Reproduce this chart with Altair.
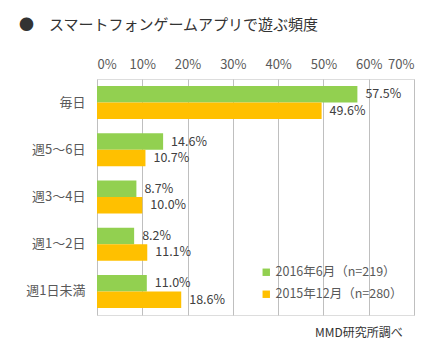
import altair as alt
import pandas as pd

categories = ["毎日", "週5～6日", "週3～4日", "週1～2日", "週1日未満"]
series = ["2016年6月（n=219）", "2015年12月（n=280）"]
v2016 = [57.5, 14.6, 8.7, 8.2, 11.0]
v2015 = [49.6, 10.7, 10.0, 11.1, 18.6]
colors = ["#92D050", "#FFC000"]
x_ticks = [0, 0.1, 0.2, 0.3, 0.4, 0.5, 0.6, 0.7]

rows = []
for i, c in enumerate(categories):
    rows.append(dict(cat=c, series=series[0], value=v2016[i]))
    rows.append(dict(cat=c, series=series[1], value=v2015[i]))
df = pd.DataFrame(rows)
df["frac"] = df["value"] / 100
df["label"] = df["value"].map(lambda v: f"{v:.1f}%")

FONT = "Noto Sans CJK JP"

base = alt.Chart(df).encode(
    y=alt.Y("cat:N", sort=categories, title=None,
            scale=alt.Scale(paddingInner=0.3, paddingOuter=0.15),
            axis=alt.Axis(domain=False, ticks=False, labelPadding=12,
                          labelFontSize=13, labelColor="#595959", labelFont=FONT)),
    yOffset=alt.YOffset("series:N", sort=series),
)

bars = base.mark_bar().encode(
    x=alt.X("frac:Q", title=None,
            scale=alt.Scale(domain=[0, 0.7], nice=False),
            axis=alt.Axis(orient="top", values=x_ticks, format=".0%", grid=True,
                          gridColor="#bfbfbf", domain=False, ticks=False,
                          labelPadding=8, labelFontSize=13, labelColor="#595959",
                          labelFont=FONT)),
    color=alt.Color("series:N", sort=series,
                    scale=alt.Scale(domain=series, range=colors),
                    legend=alt.Legend(title=None, orient="none", legendX=163, legendY=187,
                                      symbolType="square", symbolSize=55,
                                      symbolStrokeWidth=0, labelFontSize=12.5,
                                      labelColor="#595959", labelFont=FONT,
                                      rowPadding=9, symbolOffset=0, labelOffset=3)),
)

texts = base.mark_text(align="left", baseline="middle", dx=8, fontSize=12.5,
                       color="#404040", font=FONT).encode(
    x=alt.X("frac:Q"),
    text="label:N",
)

note = alt.Chart(pd.DataFrame({"t": ["MMD研究所調べ"]})).mark_text(
    align="left", baseline="middle", fontSize=12, color="#333333", font=FONT
).encode(x=alt.value(218), y=alt.value(254), text="t:N")

chart = alt.layer(bars, texts, note).properties(
    width=317, height=236,
    autosize=alt.AutoSizeParams(type="none"),
    padding={"left": 97, "top": 79, "right": 17, "bottom": 38},
    title=alt.TitleParams("●　スマートフォンゲームアプリで遊ぶ頻度", anchor="start",
                          frame="group", dx=-78, offset=25, fontSize=15,
                          fontWeight="normal", color="#333333", font=FONT),
).configure_view(stroke="#bfbfbf").configure(background="white")

chart.save("out.html", embed_options={"renderer": "svg", "actions": False})
